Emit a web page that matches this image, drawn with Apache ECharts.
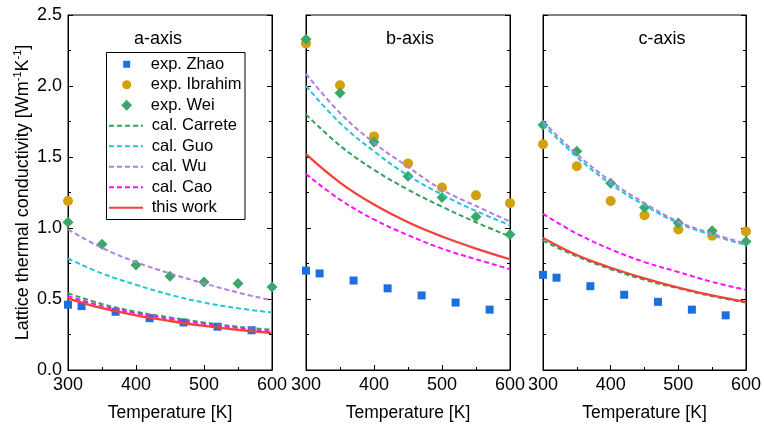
<!DOCTYPE html>
<html><head><meta charset="utf-8">
<script src="https://cdn.jsdelivr.net/npm/echarts@6/dist/echarts.min.js"></script>
<style>html,body{margin:0;padding:0;background:#fff}#c{width:764px;height:431px}</style>
</head><body><div id="c"></div>
<script>
// ---- data ----
const panelTitles = ['a-axis', 'b-axis', 'c-axis'];
const xTicks = [300, 400, 500, 600];
const yTicks = [0.0, 0.5, 1.0, 1.5, 2.0, 2.5];
const T7 = [300, 350, 400, 450, 500, 550, 600];
const zhaoT = [300, 320, 370, 420, 470, 520, 570];
const zhaoA = [0.46, 0.45, 0.41, 0.365, 0.335, 0.305, 0.28];
const zhaoB = [0.70, 0.68, 0.63, 0.575, 0.525, 0.475, 0.425];
const zhaoC = [0.67, 0.65, 0.59, 0.53, 0.48, 0.425, 0.385];
const ibrahimTA = [300];
const ibrahimA = [1.19];
const ibrahimB = [2.30, 2.005, 1.645, 1.455, 1.285, 1.23, 1.175];
const ibrahimC = [1.59, 1.435, 1.19, 1.09, 0.99, 0.945, 0.975];
const weiA = [1.04, 0.885, 0.74, 0.66, 0.62, 0.61, 0.585];
const weiB = [2.33, 1.95, 1.605, 1.365, 1.215, 1.08, 0.955];
const weiC = [1.725, 1.54, 1.315, 1.145, 1.035, 0.98, 0.905];
const carreteA = [0.54, 0.465, 0.41, 0.37, 0.335, 0.305, 0.283];
const carreteB = [1.80, 1.58, 1.41, 1.27, 1.15, 1.04, 0.94];
const carreteC = [0.91, 0.80, 0.71, 0.635, 0.575, 0.52, 0.475];
const guoA = [0.785, 0.68, 0.60, 0.53, 0.475, 0.435, 0.405];
const guoB = [2.00, 1.74, 1.54, 1.37, 1.235, 1.12, 1.02];
const guoC = [1.73, 1.50, 1.31, 1.16, 1.035, 0.95, 0.88];
const wuA = [0.99, 0.86, 0.76, 0.68, 0.61, 0.545, 0.49];
const wuB = [2.085, 1.81, 1.60, 1.43, 1.27, 1.155, 1.045];
const wuC = [1.75, 1.52, 1.33, 1.175, 1.045, 0.96, 0.89];
const caoA = [0.52, 0.45, 0.40, 0.36, 0.325, 0.295, 0.27];
const caoB = [1.38, 1.20, 1.06, 0.95, 0.855, 0.78, 0.71];
const caoC = [1.10, 0.96, 0.85, 0.76, 0.69, 0.62, 0.565];
const workA = [0.505, 0.435, 0.385, 0.345, 0.31, 0.283, 0.26];
const workB = [1.52, 1.32, 1.165, 1.04, 0.94, 0.855, 0.78];
const workC = [0.93, 0.81, 0.72, 0.645, 0.58, 0.525, 0.48];
const markerNames = ['exp. Zhao', 'exp. Ibrahim', 'exp. Wei'];
const lineNames = ['cal. Carrete', 'cal. Guo', 'cal. Wu', 'cal. Cao', 'this work'];

// ---- build ----
const FONT = "'Liberation Sans', Arial, sans-serif";
const pair = (xs, ys) => ys.map((v, i) => [xs[i], v]);
const panels = [
  {zhao: zhaoA, ibT: ibrahimTA, ib: ibrahimA, wei: weiA, carrete: carreteA, guo: guoA, wu: wuA, cao: caoA, work: workA},
  {zhao: zhaoB, ibT: T7, ib: ibrahimB, wei: weiB, carrete: carreteB, guo: guoB, wu: wuB, cao: caoB, work: workB},
  {zhao: zhaoC, ibT: T7, ib: ibrahimC, wei: weiC, carrete: carreteC, guo: guoC, wu: wuC, cao: caoC, work: workC}
];
const gridLefts = [68, 306, 543];
const titleCenters = [153, 405, 657];
const C = {zhao:'#1c6fe0', ib:'#d4a00c', wei:'#3aa86a', carrete:'#2fa35e', guo:'#1ec8d8', wu:'#b07fe0', cao:'#ff10ff', work:'#f0433a'};

const grids = [], xAxes = [], yAxes = [], series = [], titles = [];
panels.forEach((p, i) => {
  grids.push({left: gridLefts[i], top: 15, width: 204, height: 355, show: true, borderColor: '#000', borderWidth: 1, backgroundColor: 'transparent'});
  titles.push({text: panelTitles[i], left: titleCenters[i], top: 25, textAlign: 'center',
    textStyle: {fontFamily: FONT, fontSize: 18, fontWeight: 'normal', color: '#000'}});
  xAxes.push({type: 'value', gridIndex: i, min: xTicks[0], max: xTicks[xTicks.length-1], interval: 100,
    axisLine: {show: true, lineStyle: {color: '#000', width: 1}},
    axisTick: {inside: true, length: 5, lineStyle: {color: '#000'}},
    minorTick: {show: true, splitNumber: 2, length: 3, lineStyle: {color: '#000'}},
    splitLine: {show: false},
    axisLabel: {fontFamily: FONT, fontSize: 18, color: '#000', margin: 6, showMinLabel: true, showMaxLabel: true},
    name: 'Temperature [K]', nameLocation: 'middle', nameGap: 34, nameMoveOverlap: false,
    nameTextStyle: {fontFamily: FONT, fontSize: 17.5, color: '#000'}});
  const yBase = {type: 'value', gridIndex: i, min: yTicks[0], max: yTicks[yTicks.length-1], interval: 0.5,
    axisLine: {show: true, lineStyle: {color: '#000', width: 1}},
    axisTick: {show: true, inside: true, length: 5, lineStyle: {color: '#000'}},
    minorTick: {show: true, splitNumber: 2, length: 3, lineStyle: {color: '#000'}},
    splitLine: {show: false}};
  const yl = Object.assign({}, yBase, {position: 'left',
    axisLabel: {show: i === 0, fontFamily: FONT, fontSize: 18, color: '#000', margin: 6, formatter: v => v.toFixed(1)}});
  if (i === 0) {
    yl.name = 'Lattice thermal conductivity [Wm{sup|-1}K{sup|-1}]';
    yl.nameLocation = 'middle'; yl.nameGap = 34; yl.nameRotate = 90; yl.nameMoveOverlap = false;
    yl.nameTextStyle = {fontFamily: FONT, fontSize: 18, color: '#000', lineHeight: 22,
      rich: {sup: {fontFamily: FONT, fontSize: 11, color: '#000', verticalAlign: 'top', lineHeight: 22}}};
  }
  yAxes.push(yl);
  yAxes.push(Object.assign({}, yBase, {position: 'right', axisLabel: {show: false}}));
  const xi = i, yi = 2 * i;
  const sc = (name, sym, size, color, xs, ys) => ({name, type: 'scatter', xAxisIndex: xi, yAxisIndex: yi,
    symbol: sym, symbolSize: size, itemStyle: {color, opacity: 1}, data: pair(xs, ys)});
  series.push(sc('exp. Zhao', 'rect', 8, C.zhao, zhaoT, p.zhao));
  series.push(sc('exp. Ibrahim', 'circle', 10, C.ib, p.ibT, p.ib));
  series.push(sc('exp. Wei', 'diamond', 11, C.wei, T7, p.wei));
  const lineS = (name, arr, color, dashed, w) => ({name, type: 'line', xAxisIndex: xi, yAxisIndex: yi, smooth: 0.4,
    symbol: 'none', showSymbol: false, itemStyle: {color},
    lineStyle: {color, width: w, type: dashed ? [5, 3] : 'solid'}, data: pair(T7, arr)});
  series.push(lineS('cal. Carrete', p.carrete, C.carrete, true, 2));
  series.push(lineS('cal. Guo', p.guo, C.guo, true, 2));
  series.push(lineS('cal. Wu', p.wu, C.wu, true, 2));
  series.push(lineS('cal. Cao', p.cao, C.cao, true, 2));
  series.push(lineS('this work', p.work, C.work, false, 2.3));
});

const legendText = {fontFamily: FONT, fontSize: 16.5, color: '#000', lineHeight: 20.5};
const iconCenterX = 126.7, textStartX = 150.7, legendTop = 54, rowH = 20.5;
const markerIconSizes = [7, 9, 11];
const markerLegends = markerNames.map((n, k) => {
  const s = markerIconSizes[k];
  const left = iconCenterX - s / 2;
  return {orient: 'vertical', left, top: legendTop + rowH * k, padding: 0, itemGap: 0, itemWidth: s, itemHeight: s, z: 5,
    textStyle: Object.assign({padding: [0, 0, 0, textStartX - (left + s + 5)]}, legendText),
    data: [{name: n}]};
});
const chart = echarts.init(document.getElementById('c'), null, {renderer: 'canvas'});
chart.setOption({
  animation: false,
  backgroundColor: '#fff',
  title: titles,
  grid: grids,
  xAxis: xAxes,
  yAxis: yAxes,
  graphic: [{type: 'rect', z: 3, shape: {x: 106.5, y: 52.5, width: 138.5, height: 167},
    style: {fill: '#fff', stroke: '#000', lineWidth: 1}}],
  legend: markerLegends.concat([
    {orient: 'vertical', left: 108, top: legendTop + rowH * 3, padding: 0, itemGap: 0, itemWidth: 34, itemHeight: 10, z: 5,
      textStyle: Object.assign({padding: [0, 0, 0, textStartX - (108 + 34 + 5)]}, legendText),
      data: lineNames.map(n => ({name: n, itemStyle: {opacity: 0}}))}
  ]),
  series: series
});
</script></body></html>
